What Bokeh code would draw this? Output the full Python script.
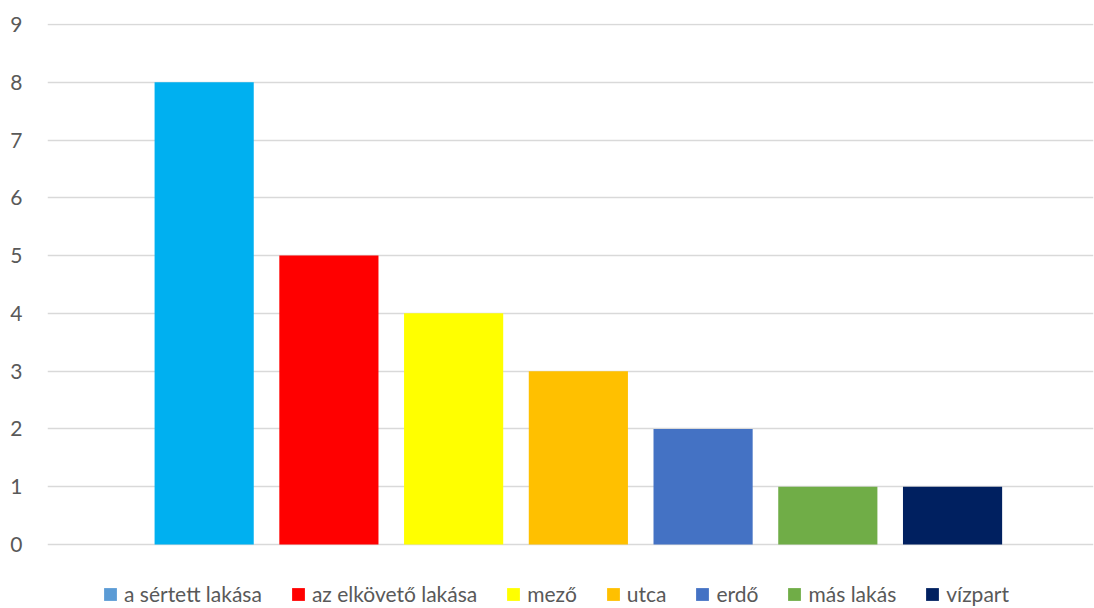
from bokeh.plotting import figure
from bokeh.models import Range1d, FixedTicker, Legend, LegendItem, ColumnDataSource
from bokeh.embed import file_html
from bokeh.resources import INLINE

categories = ["a sértett lakása", "az elkövető lakása", "mező", "utca", "erdő", "más lakás", "vízpart"]
values = [8, 5, 4, 3, 2, 1, 1]
bar_colors = ["#00B0F0", "#FF0000", "#FFFF00", "#FFC000", "#4472C4", "#70AD47", "#002060"]
legend_colors = ["#5B9BD5", "#FF0000", "#FFFF00", "#FFC000", "#4472C4", "#70AD47", "#002060"]
y_ticks = [0, 1, 2, 3, 4, 5, 6, 7, 8, 9]

FONT = "Lato"
GREY = "#595959"

p = figure(width=1094, height=608, output_backend="svg", toolbar_location=None,
           x_range=Range1d(-1.256, 7.13), y_range=Range1d(-1.108, 9.017),
           min_border_left=47, min_border_right=1, min_border_top=23, min_border_bottom=0)
p.outline_line_color = None
p.xaxis.visible = False
p.xgrid.visible = False
p.ygrid.grid_line_color = "#D9D9D9"
p.ygrid.grid_line_width = 1.6
p.ygrid.ticker = FixedTicker(ticks=y_ticks)
p.yaxis.ticker = FixedTicker(ticks=y_ticks)
p.yaxis.axis_line_color = None
p.yaxis.major_tick_line_color = None
p.yaxis.minor_tick_line_color = None
p.yaxis.major_label_text_font = FONT
p.yaxis.major_label_text_font_size = "21px"
p.yaxis.major_label_text_color = GREY
p.yaxis.major_label_standoff = 19

items = []
for i, (cat, val, bc, lc) in enumerate(zip(categories, values, bar_colors, legend_colors)):
    src = ColumnDataSource(dict(x=[i], top=[val]))
    p.vbar(x="x", top="top", width=0.795, bottom=0, source=src, fill_color=bc, line_color=None)
    # legend swatch renderer (placed outside the visible range)
    dummy = p.vbar(x=[-100], top=[0], bottom=[0], width=0.8, fill_color=lc, line_color=None)
    items.append(LegendItem(label=cat, renderers=[dummy]))

legend = Legend(items=items, orientation="horizontal", location=(55, 2))
legend.glyph_width = 16
legend.glyph_height = 16
legend.label_height = 16
legend.label_standoff = 6
legend.spacing = 28
legend.padding = 0
legend.margin = 0
legend.border_line_color = None
legend.background_fill_alpha = 0
legend.label_text_font = FONT
legend.label_text_font_size = "21px"
legend.label_text_color = GREY
p.add_layout(legend)

open("out.html", "w").write(file_html(p, INLINE))
